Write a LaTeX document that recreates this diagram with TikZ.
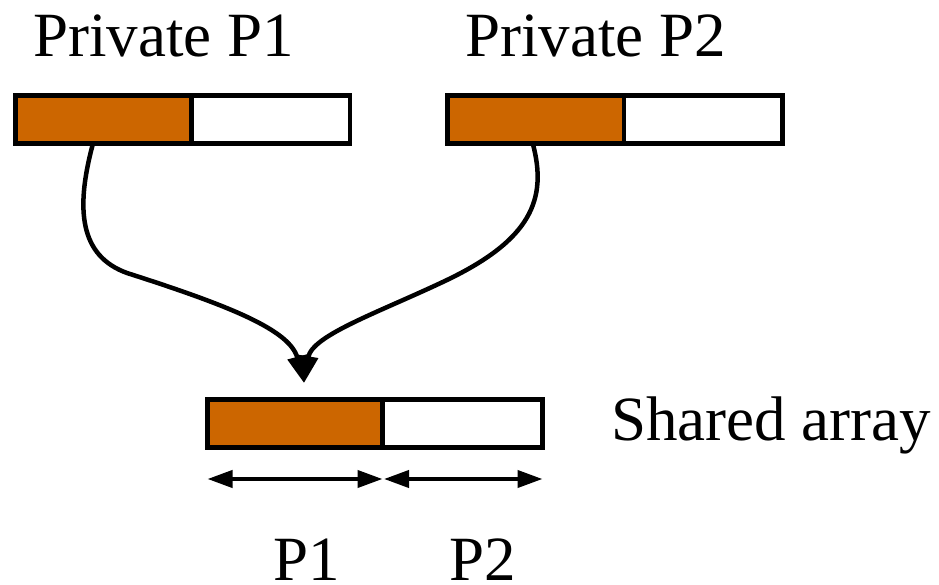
\documentclass[tikz,border=0pt]{standalone}
\usepackage{fontspec}
\setmainfont{LiberationSerif}[Extension=.ttf, UprightFont=*-Regular, BoldFont=*-Bold]
\usetikzlibrary{arrows.meta}
\definecolor{part}{HTML}{CC6600}
\tikzset{
  cell/.style={draw=black, line width=4.5pt, inner sep=0pt, outer sep=0pt, minimum height=48pt},
  full/.style={cell, fill=part},
  empty/.style={cell, fill=white},
  caption/.style={inner sep=0pt, anchor=base west, font=\rmfamily\fontsize{63}{70}\selectfont},
  flow/.style={line width=4.5pt, -{Triangle[length=27pt,width=19pt]}},
  span/.style={line width=4pt, {Triangle[length=25pt,width=17pt]}-{Triangle[length=25pt,width=17pt]}}
}
\begin{document}
\begin{tikzpicture}[x=1pt,y=-1pt]
  \useasboundingbox (0,0) rectangle (939,585);

  % private copies
  \node[caption] (t1) at (33,57) {Private P1};
  \node[caption] (t2) at (465,57) {Private P2};

  % merge target
  \coordinate (tip) at (304,383);

  \node[full,  minimum width=176pt]   (p1a) at (103.5,119.5) {};
  \node[empty, minimum width=158.5pt] (p1b) at (270.75,119.5) {};
  \node[full,  minimum width=176.5pt] (p2a) at (535.75,119.5) {};
  \node[empty, minimum width=158.5pt] (p2b) at (703.25,119.5) {};

  % copying into the shared array
  \draw[flow] ([xshift=-10.5pt]p1a.south)
     .. controls (75,210) and (80,256) .. (127,273)
     .. controls (230,306) and (290,330) .. (tip);
  \draw[flow] ([xshift=-3pt]p2a.south)
     .. controls (548,200) and (530,240) .. (447,280)
     .. controls (380,312) and (312,335) .. (tip);

  % shared array
  \node[full,  minimum width=175pt] (sa) at (295,423.5) {};
  \node[empty, minimum width=160pt] (sb) at (462.5,423.5) {};
  \node[caption] (ts) at (611,440) {Shared array};

  % ownership ranges
  \coordinate (r0) at (207.5,479);
  \coordinate (r1) at (382.5,479);
  \coordinate (r2) at (384,479);
  \coordinate (r3) at (542.5,479);
  \draw[span] (r0) -- (r1);
  \draw[span] (r2) -- (r3);

  \node[caption] (q1) at (273,580) {P1};
  \node[caption] (q2) at (449,580) {P2};
\end{tikzpicture}
\end{document}
